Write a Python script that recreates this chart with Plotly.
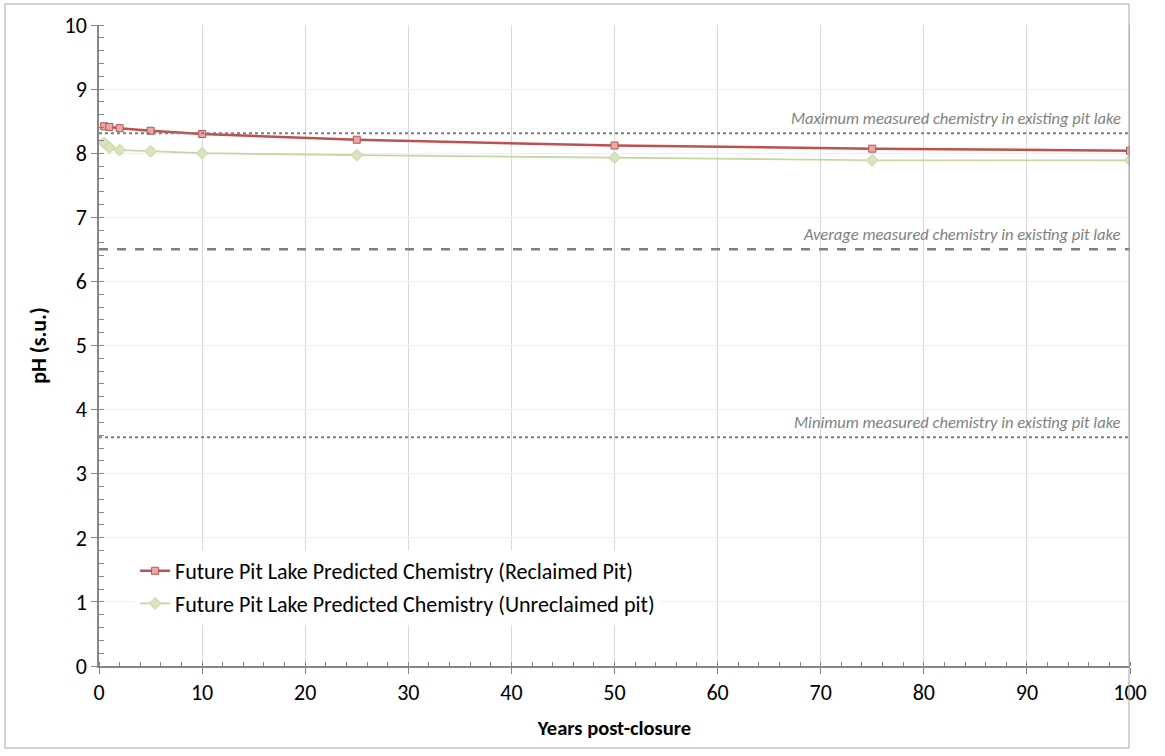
import plotly.graph_objects as go

# Years after closure at which predictions were made
years = [0.5, 1, 2, 5, 10, 25, 50, 75, 100]

# Predicted pH (s.u.)
ph_reclaimed = [8.42, 8.41, 8.39, 8.35, 8.30, 8.21, 8.12, 8.07, 8.04]
ph_unreclaimed = [8.16, 8.09, 8.05, 8.03, 8.00, 7.97, 7.93, 7.89, 7.89]

# Measured chemistry in the existing pit lake
ph_max_measured = 8.31
ph_avg_measured = 6.50
ph_min_measured = 3.57

ref_labels = [
    "Maximum measured chemistry in existing pit lake",
    "Average measured chemistry in existing pit lake",
    "Minimum measured chemistry in existing pit lake",
]

FONT = "Carlito, Calibri, Lato, sans-serif"

fig = go.Figure()

fig.add_trace(go.Scatter(
    x=years, y=ph_reclaimed, mode="lines+markers",
    name="Future Pit Lake Predicted Chemistry (Reclaimed Pit)",
    legendgroup="reclaimed",
    line=dict(color="#c0504d", width=2.5),
    marker=dict(symbol="square", size=7, color="#e6a9a8",
                line=dict(color="#c0504d", width=1)),
))
fig.add_trace(go.Scatter(
    x=years, y=ph_unreclaimed, mode="lines+markers",
    name="Future Pit Lake Predicted Chemistry (Unreclaimed pit)",
    legendgroup="unreclaimed",
    line=dict(color="#c3d69b", width=1.75),
    marker=dict(symbol="diamond", size=9, color="#d7e4bd",
                line=dict(color="#c3d69b", width=1)),
))

# Reference levels from measured chemistry
for level, dash, width in [(ph_max_measured, "dot", 2),
                           (ph_avg_measured, "dash", 2.5),
                           (ph_min_measured, "dot", 2)]:
    fig.add_shape(type="line", xref="x", yref="y", x0=0, x1=100,
                  y0=level, y1=level,
                  line=dict(color="#7f7f7f", width=width, dash=dash))

for level, text in zip([ph_max_measured, ph_avg_measured, ph_min_measured], ref_labels):
    fig.add_annotation(x=99.3, y=level, xref="x", yref="y", text=f"<i>{text}</i>",
                       showarrow=False, xanchor="right", yanchor="bottom", yshift=3,
                       font=dict(family=FONT, size=16.5, color="#7f7f7f"))

# Right-hand edge of the plot area
fig.add_shape(type="line", xref="x", yref="y", x0=100, x1=100, y0=0, y1=10,
              line=dict(color="#868686", width=1))

# Outer chart border
fig.add_shape(type="rect", xref="paper", yref="paper",
              x0=-94 / 1031, x1=1030 / 1031, y0=-82 / 641, y1=1 + 21 / 641,
              line=dict(color="#a6a6a6", width=1), fillcolor="rgba(0,0,0,0)")

fig.update_layout(
    width=1165, height=756,
    margin=dict(l=99, r=35, t=25, b=90),
    plot_bgcolor="white", paper_bgcolor="white",
    font=dict(family=FONT, size=22, color="#000000"),
    showlegend=True,
    legend=dict(x=0.035, y=0.181, xanchor="left", yanchor="top",
                bgcolor="white", font=dict(family=FONT, size=22),
                itemwidth=30, tracegroupgap=1),
    xaxis=dict(
        range=[0, 100], dtick=10, tick0=0,
        showline=True, linecolor="#868686", linewidth=1.5,
        ticks="outside", ticklen=6, tickcolor="#868686",
        showgrid=True, gridcolor="#d9d9d9", gridwidth=1,
        zeroline=False,
        minor=dict(dtick=2, ticks="inside", ticklen=4, tickcolor="#868686", showgrid=False),
        title=dict(text="<b>Years post-closure</b>", font=dict(family=FONT, size=20.5), standoff=15),
        tickfont=dict(size=22),
    ),
    yaxis=dict(
        range=[0, 10], dtick=1, tick0=0,
        showline=True, linecolor="#868686", linewidth=1.5,
        ticks="outside", ticklen=6, tickcolor="#868686",
        showgrid=True, gridcolor="#efefef", gridwidth=1,
        zeroline=False,
        minor=dict(dtick=0.2, ticks="inside", ticklen=5, tickcolor="#868686", showgrid=False),
        title=dict(text="<b>pH (s.u.)</b>", font=dict(family=FONT, size=22), standoff=12),
        tickfont=dict(size=22),
    ),
)

fig.write_html("out.html")
